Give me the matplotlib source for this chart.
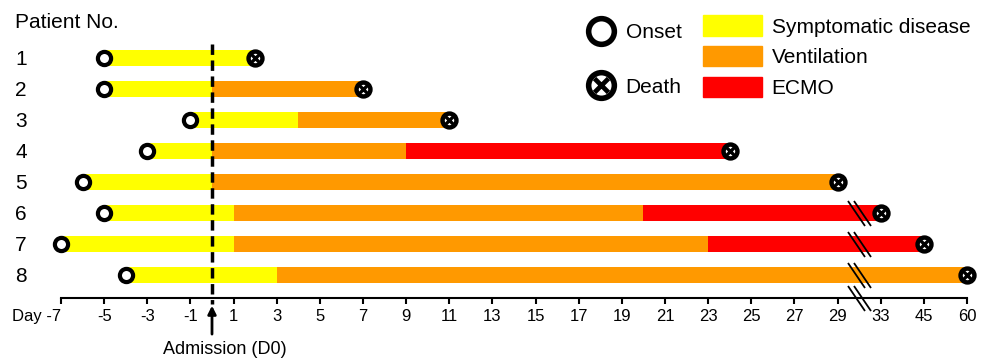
import numpy as np
import matplotlib.pyplot as plt
from matplotlib.lines import Line2D
from matplotlib.patches import Patch
from matplotlib.path import Path

plt.rcParams['font.family'] = ['Liberation Sans', 'DejaVu Sans']

# data (days relative to admission)
patients = np.arange(1, 9)
onset = np.array([-5, -5, -1, -3, -6, -5, -7, -4])
vent_start = np.array([np.nan, 0, 4, 0, 0, 1, 1, 3])
ecmo_start = np.array([np.nan, np.nan, np.nan, 9, np.nan, 20, 23, np.nan])
death = np.array([2, 7, 11, 24, 29, 33, 45, 60])
broken_rows = [6, 7, 8]
tick_days = [-7, -5, -3, -1, 1, 3, 5, 7, 9, 11, 13, 15, 17, 19, 21, 23, 25, 27, 29, 33, 45, 60]
tick_labels = ['Day -7'] + [str(d) for d in tick_days[1:]]

yellow, orange, red = '#ffff00', '#ff9900', '#ff0000'

# broken axis: everything after day 30 is squeezed
src = [-100, 30, 33, 45, 60, 200]
dst = [-100, 30, 31, 33, 35, 175]


def fwd(x):
    return np.interp(x, src, dst)


def inv(x):
    return np.interp(x, dst, src)


fig = plt.figure(figsize=(9.84, 3.58), dpi=100)
ax = fig.add_axes([0.062, 0.1676, 0.9207, 0.8045])
ax.set_xscale('function', functions=(fwd, inv))

symp_end = np.where(np.isnan(vent_start), death, vent_start)
vent_end = np.where(np.isnan(ecmo_start), death, ecmo_start)
has_vent = ~np.isnan(vent_start)
has_ecmo = ~np.isnan(ecmo_start)

ax.barh(patients, symp_end - onset, left=onset, height=0.5, color=yellow, zorder=2)
ax.barh(patients[has_vent], (vent_end - vent_start)[has_vent], left=vent_start[has_vent],
        height=0.5, color=orange, zorder=2)
ax.barh(patients[has_ecmo], (death - ecmo_start)[has_ecmo], left=ecmo_start[has_ecmo],
        height=0.5, color=red, zorder=2)

ax.plot(onset, patients, 'o', ms=9.5, mfc='white', mec='k', mew=3, zorder=5, clip_on=False)
ax.plot(death, patients, 'o', ms=10, mfc='white', mec='k', mew=3.2, zorder=5, clip_on=False)
ax.plot(death, patients, 'x', ms=5.5, mec='k', mew=2.4, zorder=6, clip_on=False)

# admission line
ax.plot([0, 0], [0.55, 8.95], color='k', lw=2.5, ls=(0, (3, 1.6)), zorder=4, clip_on=False)

ax.set_xlim(-7, 60)
ax.set_ylim(8.742, -0.548)

# break marks
slash = Path([(-11.5, 12.5), (5.5, -12.5), (-5.5, 12.5), (11.5, -12.5)],
             [Path.MOVETO, Path.LINETO, Path.MOVETO, Path.LINETO])
ax.plot([30] * len(broken_rows), broken_rows, ls='none', marker=slash, ms=18,
        mfc='none', mec='k', mew=1.3, zorder=6, clip_on=False)
ax.plot([30], [8.742], ls='none', marker=slash, ms=18,
        mfc='none', mec='k', mew=1.3, zorder=6, clip_on=False)

ax.set_xticks(tick_days, tick_labels)
ax.get_xticklabels()[0].set_ha('right')
ax.tick_params(axis='x', direction='out', length=4, width=1.5, labelsize=12, pad=4)
ax.set_yticks(patients, [str(p) for p in patients])
ax.tick_params(axis='y', length=0, pad=33, labelsize=15)
for lab in ax.get_yticklabels():
    lab.set_ha('left')

for s in ['left', 'top', 'right']:
    ax.spines[s].set_visible(False)
ax.spines['bottom'].set_linewidth(1.5)

fig.text(15 / 984, 1 - 23 / 358, 'Patient No.', va='center', fontsize=15)

trans = ax.get_xaxis_transform()
ax.annotate('', xy=(0, -0.017), xytext=(0, -0.135), xycoords=trans,
            arrowprops=dict(arrowstyle='-|>', lw=2, color='k', mutation_scale=12))
ax.annotate('Admission (D0)', xy=(0, -0.149), xycoords=trans, xytext=(9, 0),
            textcoords='offset points', ha='center', va='top', fontsize=13)

# legends
onset_h = Line2D([], [], marker='o', ls='none', ms=18.5, mfc='white', mec='k', mew=4)
death_h = Line2D([], [], marker='o', ls='none', ms=18.5, mfc='white', mec='k', mew=4)
death_x = Line2D([], [], marker='x', ls='none', ms=10, mec='k', mew=3.4)
leg1 = ax.legend([onset_h, (death_h, death_x)], ['Onset', 'Death'], loc='upper left',
                 bbox_to_anchor=(0.5795, 0.955), frameon=False, fontsize=15,
                 handlelength=1.45, handletextpad=0.45, labelspacing=1.72,
                 borderpad=0, borderaxespad=0)
ax.add_artist(leg1)
ax.legend(handles=[Patch(color=yellow, label='Symptomatic disease'),
                   Patch(color=orange, label='Ventilation'),
                   Patch(color=red, label='ECMO')],
          loc='upper left', bbox_to_anchor=(0.7086, 0.981), frameon=False, fontsize=15,
          handlelength=2.85, handleheight=1.12, handletextpad=0.45, labelspacing=0.45,
          borderpad=0, borderaxespad=0)

plt.savefig('out.png')
